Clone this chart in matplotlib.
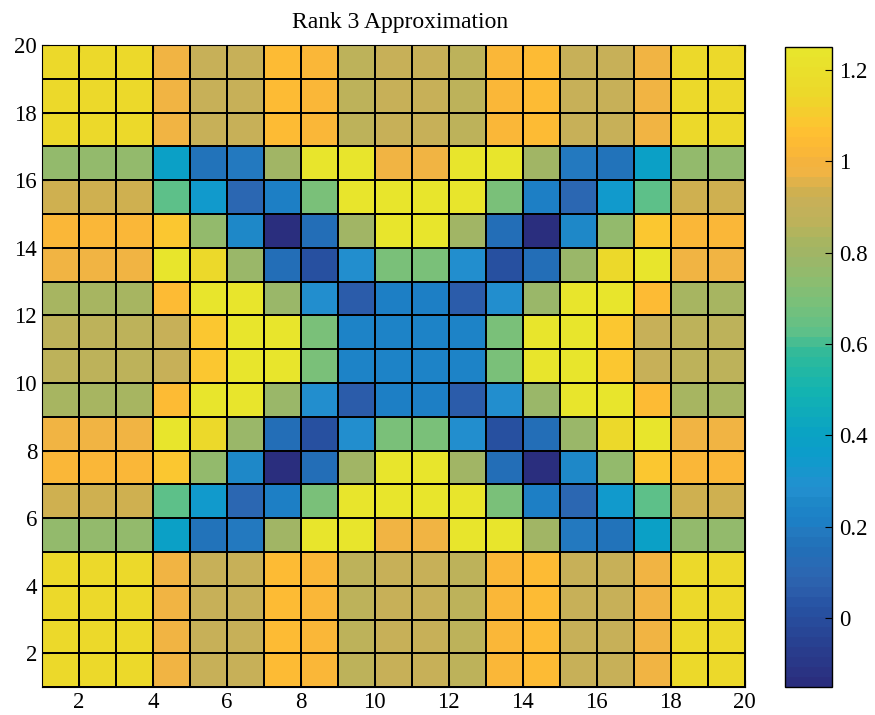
import numpy as np
import matplotlib
matplotlib.use("Agg")
import matplotlib.pyplot as plt
from matplotlib.colors import LinearSegmentedColormap

plt.rcParams['font.family'] = ['Liberation Serif', 'DejaVu Serif']

c_lim = (-0.151, 1.25)

# parula as it looks in the exported figure (value, colour)
cmap_stops = [
    (-0.151, '#2A2E7E'), (0.02, '#2753A3'), (0.06, '#2C5FAC'), (0.10, '#2B68B3'),
    (0.15, '#2170B8'), (0.18, '#2478BE'), (0.21, '#1C80C6'), (0.25, '#1E88C8'),
    (0.28, '#2490D0'), (0.35, '#0D9CCB'), (0.40, '#0AA2C4'), (0.50, '#14B4B0'),
    (0.58, '#30BA9A'), (0.63, '#60C088'), (0.69, '#78C07A'), (0.75, '#8FBC6E'),
    (0.80, '#A0B566'), (0.83, '#A8B560'), (0.87, '#BDB25A'), (0.91, '#C5B05A'),
    (0.94, '#CFB050'), (0.98, '#F0B444'), (1.01, '#F5B33D'), (1.04, '#FDB934'),
    (1.08, '#FEC232'), (1.15, '#EDD82A'), (1.25, '#E8E52C'),
]
parula = LinearSegmentedColormap.from_list(
    "parula_print",
    [((v - c_lim[0]) / (c_lim[1] - c_lim[0]), c) for v, c in cmap_stops], N=64)

# matrix rows, bottom (y=1) to top (y=20)
row_01 = [1.15, 1.15, 1.15, 0.98, 0.91, 0.91, 1.04, 1.01, 0.87, 0.91, 0.91, 0.87, 1.01, 1.04, 0.91, 0.91, 0.98, 1.15, 1.15, 1.15]
row_02 = [1.15, 1.15, 1.15, 0.98, 0.91, 0.91, 1.04, 1.01, 0.87, 0.91, 0.91, 0.87, 1.01, 1.04, 0.91, 0.91, 0.98, 1.15, 1.15, 1.15]
row_03 = [1.15, 1.15, 1.15, 0.98, 0.91, 0.91, 1.04, 1.01, 0.87, 0.91, 0.91, 0.87, 1.01, 1.04, 0.91, 0.91, 0.98, 1.15, 1.15, 1.15]
row_04 = [1.15, 1.15, 1.15, 0.98, 0.91, 0.91, 1.04, 1.01, 0.87, 0.91, 0.91, 0.87, 1.01, 1.04, 0.91, 0.91, 0.98, 1.15, 1.15, 1.15]
row_05 = [0.75, 0.75, 0.75, 0.38, 0.16, 0.18, 0.80, 1.24, 1.24, 0.98, 0.98, 1.24, 1.24, 0.80, 0.18, 0.16, 0.38, 0.75, 0.75, 0.75]
row_06 = [0.93, 0.93, 0.93, 0.63, 0.35, 0.10, 0.21, 0.69, 1.24, 1.24, 1.24, 1.24, 0.69, 0.21, 0.10, 0.35, 0.63, 0.93, 0.93, 0.93]
row_07 = [1.01, 1.01, 1.01, 1.08, 0.76, 0.25, -0.15, 0.15, 0.80, 1.24, 1.24, 0.80, 0.15, -0.15, 0.25, 0.76, 1.08, 1.01, 1.01, 1.01]
row_08 = [0.98, 0.98, 0.98, 1.24, 1.16, 0.77, 0.15, 0.02, 0.27, 0.69, 0.69, 0.27, 0.02, 0.15, 0.77, 1.16, 1.24, 0.98, 0.98, 0.98]
row_09 = [0.82, 0.82, 0.82, 1.04, 1.24, 1.24, 0.77, 0.27, 0.06, 0.20, 0.20, 0.06, 0.27, 0.77, 1.24, 1.24, 1.04, 0.82, 0.82, 0.82]
row_10 = [0.87, 0.87, 0.87, 0.91, 1.09, 1.24, 1.24, 0.69, 0.23, 0.23, 0.23, 0.23, 0.69, 1.24, 1.24, 1.09, 0.91, 0.87, 0.87, 0.87]
row_11 = [0.87, 0.87, 0.87, 0.91, 1.09, 1.24, 1.24, 0.69, 0.23, 0.23, 0.23, 0.23, 0.69, 1.24, 1.24, 1.09, 0.91, 0.87, 0.87, 0.87]
row_12 = [0.82, 0.82, 0.82, 1.04, 1.24, 1.24, 0.77, 0.27, 0.06, 0.20, 0.20, 0.06, 0.27, 0.77, 1.24, 1.24, 1.04, 0.82, 0.82, 0.82]
row_13 = [0.98, 0.98, 0.98, 1.24, 1.16, 0.77, 0.15, 0.02, 0.27, 0.69, 0.69, 0.27, 0.02, 0.15, 0.77, 1.16, 1.24, 0.98, 0.98, 0.98]
row_14 = [1.01, 1.01, 1.01, 1.08, 0.76, 0.25, -0.15, 0.15, 0.80, 1.24, 1.24, 0.80, 0.15, -0.15, 0.25, 0.76, 1.08, 1.01, 1.01, 1.01]
row_15 = [0.93, 0.93, 0.93, 0.63, 0.35, 0.10, 0.21, 0.69, 1.24, 1.24, 1.24, 1.24, 0.69, 0.21, 0.10, 0.35, 0.63, 0.93, 0.93, 0.93]
row_16 = [0.75, 0.75, 0.75, 0.38, 0.16, 0.18, 0.80, 1.24, 1.24, 0.98, 0.98, 1.24, 1.24, 0.80, 0.18, 0.16, 0.38, 0.75, 0.75, 0.75]
row_17 = [1.15, 1.15, 1.15, 0.98, 0.91, 0.91, 1.04, 1.01, 0.87, 0.91, 0.91, 0.87, 1.01, 1.04, 0.91, 0.91, 0.98, 1.15, 1.15, 1.15]
row_18 = [1.15, 1.15, 1.15, 0.98, 0.91, 0.91, 1.04, 1.01, 0.87, 0.91, 0.91, 0.87, 1.01, 1.04, 0.91, 0.91, 0.98, 1.15, 1.15, 1.15]
row_19 = [1.15, 1.15, 1.15, 0.98, 0.91, 0.91, 1.04, 1.01, 0.87, 0.91, 0.91, 0.87, 1.01, 1.04, 0.91, 0.91, 0.98, 1.15, 1.15, 1.15]
row_20 = [1.15, 1.15, 1.15, 0.98, 0.91, 0.91, 1.04, 1.01, 0.87, 0.91, 0.91, 0.87, 1.01, 1.04, 0.91, 0.91, 0.98, 1.15, 1.15, 1.15]

rows = [row_01, row_02, row_03, row_04, row_05, row_06, row_07, row_08, row_09, row_10,
        row_11, row_12, row_13, row_14, row_15, row_16, row_17, row_18, row_19, row_20]
C = np.array(rows)
ticks = [2, 4, 6, 8, 10, 12, 14, 16, 18, 20]
cbar_ticks = [0, 0.2, 0.4, 0.6, 0.8, 1, 1.2]
cbar_labels = ['0', '0.2', '0.4', '0.6', '0.8', '1', '1.2']

grid = np.arange(1, 21)

fig = plt.figure(figsize=(8.75, 7.15), dpi=100)
ax = fig.add_axes([0.048, 0.039, 0.803, 0.898])
cax = fig.add_axes([0.897, 0.039, 0.054, 0.895])

# pcolor style: last row/col of C not drawn
mesh = ax.pcolormesh(grid, grid, C[:-1, :-1], cmap=parula, vmin=c_lim[0], vmax=c_lim[1],
                     edgecolors='black', linewidth=1.2)
ax.set_xlim(1, 20)
ax.set_ylim(1, 20)
ax.set_xticks(ticks)
ax.set_yticks(ticks)
ax.tick_params(direction='in', top=True, right=True, labelsize=16.5, length=5)
ax.set_title("Rank 3 Approximation", fontsize=17, pad=12, x=0.51)

cb = fig.colorbar(mesh, cax=cax, ticks=cbar_ticks)
cb.ax.tick_params(direction='in', labelsize=16.5, length=5, pad=5)
cb.ax.set_yticklabels(cbar_labels)
cb.outline.set_linewidth(1.0)

fig.savefig("out.png", dpi=100)
